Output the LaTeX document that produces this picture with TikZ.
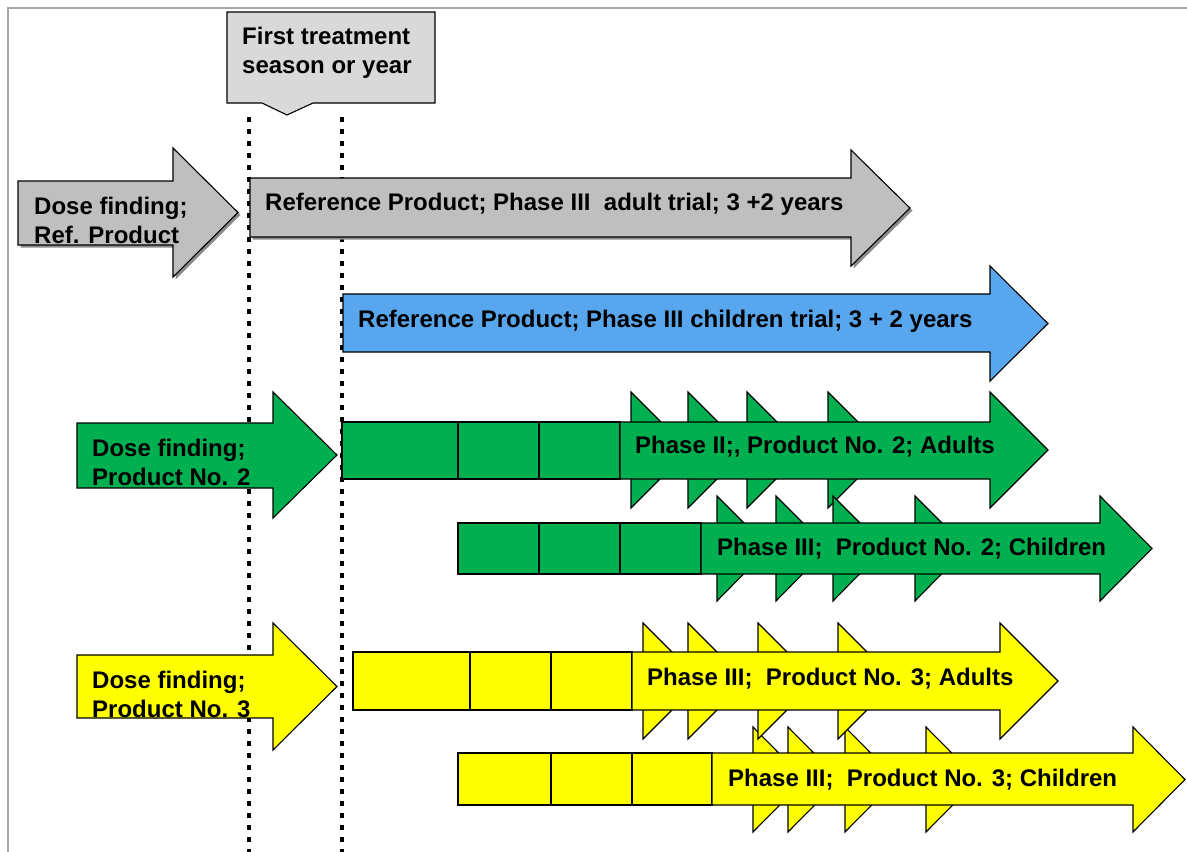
\documentclass[tikz,border=0pt]{standalone}
\usepackage{fontspec}
\setmainfont{Liberation Sans}
\definecolor{framegray}{HTML}{A6A6A6}
\definecolor{refgray}{HTML}{BFBFBF}
\definecolor{callgray}{HTML}{D9D9D9}
\definecolor{kidblue}{HTML}{58A6EE}
\definecolor{prodgreen}{HTML}{00B050}
\definecolor{prodyellow}{HTML}{FFFF00}
% #1 style, #2 x0, #3 ytop, #4 ybot, #5 xhead, #6 headtop, #7 headbot, #8 xtip
\newcommand\bigarrow[8]{%
  \path[#1] (#2,#3) -- (#5,#3) -- (#5,#6) -- (#8,{(#6+#7)/2}) -- (#5,#7) -- (#5,#4) -- (#2,#4) -- cycle;}
\begin{document}
\begin{tikzpicture}[x=1pt,y=-1pt,
  outl/.style={draw=black, line width=1.1pt, line join=miter},
  grayshape/.style={outl, fill=refgray},
  shadowshape/.style={fill=black!45, shift={(2.5,2.5)}},
  blueshape/.style={outl, fill=kidblue},
  greenshape/.style={outl, fill=prodgreen},
  yellowshape/.style={outl, fill=prodyellow},
  dotline/.style={line width=4.5pt, dash pattern=on 4.5pt off 7.5pt},
  lbl/.style={font=\fontsize{24}{29}\selectfont\bfseries, inner sep=0pt, anchor=base west, text=black}]
\useasboundingbox (0,0) rectangle (1187,852);
\fill[white] (0,0) rectangle (1187,852);
\draw[framegray, line width=2.5pt] (8,852) -- (8,8) -- (1187,8);

% dotted time markers
\draw[dotline] (249,117) -- (249,852);
\draw[dotline] (342,117) -- (342,852);

% reference product
\bigarrow{shadowshape}{18}{181}{245}{173}{148}{277}{238}
\bigarrow{grayshape}{18}{181}{245}{173}{148}{277}{238}
\node[lbl] (refdose1) at (34,214) {Dose finding;};
\node[lbl] (refdose2) at (34,243) {Ref. Product};

\bigarrow{shadowshape}{250}{178}{237}{851}{150}{266}{910}
\bigarrow{grayshape}{250}{178}{237}{851}{150}{266}{910}
\node[lbl] (refadult) at (265,210) {Reference Product; Phase III\ \ adult trial; 3 +2 years};

\bigarrow{blueshape}{343}{294}{352}{990}{266}{381}{1048}
\node[lbl] (refkids) at (358,327) {Reference Product; Phase III children trial; 3 + 2 years};

% product no. 2
\bigarrow{greenshape}{77}{423}{488}{273}{392}{518}{337}
\node[lbl] (p2dose1) at (92,456) {Dose finding;};
\node[lbl] (p2dose2) at (92,485) {Product No. 2};

\foreach \x in {631,688,747,828}
  \path[greenshape] (\x,392) -- (\x+58,450) -- (\x,508) -- cycle;
\foreach \a/\b in {342/458,458/539,539/620}
  \path[greenshape] (\a,422) rectangle (\b,479);
\bigarrow{greenshape}{620}{422}{479}{990}{392}{508}{1048}
\node[lbl] (p2adult) at (635,453) {Phase II;, Product No. 2; Adults};

\foreach \x in {717,776,833,915}
  \path[greenshape] (\x,496) -- (\x+52,548) -- (\x,601) -- cycle;
\foreach \a/\b in {458/539,539/620,620/701}
  \path[greenshape] (\a,523) rectangle (\b,574);
\bigarrow{greenshape}{701}{523}{574}{1100}{496}{601}{1152}
\node[lbl] (p2kids) at (717,555) {Phase III;\ \ Product No. 2; Children};

% product no. 3
\bigarrow{yellowshape}{77}{655}{718}{273}{623}{750}{337}
\node[lbl] (p3dose1) at (92,688) {Dose finding;};
\node[lbl] (p3dose2) at (92,717) {Product No. 3};

\foreach \x in {753,788,845,926}
  \path[yellowshape] (\x,727) -- (\x+52,779.5) -- (\x,832) -- cycle;
\foreach \x in {643,688,758,838}
  \path[yellowshape] (\x,623) -- (\x+58,681) -- (\x,739) -- cycle;
\foreach \a/\b in {353/470,470/551,551/632}
  \path[yellowshape] (\a,652) rectangle (\b,710);
\bigarrow{yellowshape}{632}{652}{710}{1000}{623}{739}{1058}
\node[lbl] (p3adult) at (647,685) {Phase III;\ \ Product No. 3; Adults};

\foreach \a/\b in {458/551,551/632,632/712}
  \path[yellowshape] (\a,753) rectangle (\b,805);
\bigarrow{yellowshape}{712}{753}{805}{1133}{727}{832}{1185}
\node[lbl] (p3kids) at (728,786) {Phase III;\ \ Product No. 3; Children};

% callout
\path[outl, fill=callgray] (227,12) -- (435,12) -- (435,103) -- (313,103) -- (287,115) -- (262,103) -- (227,103) -- cycle;
\node[lbl] (call1) at (242,44) {First treatment};
\node[lbl] (call2) at (242,73) {season or year};
\end{tikzpicture}
\end{document}
